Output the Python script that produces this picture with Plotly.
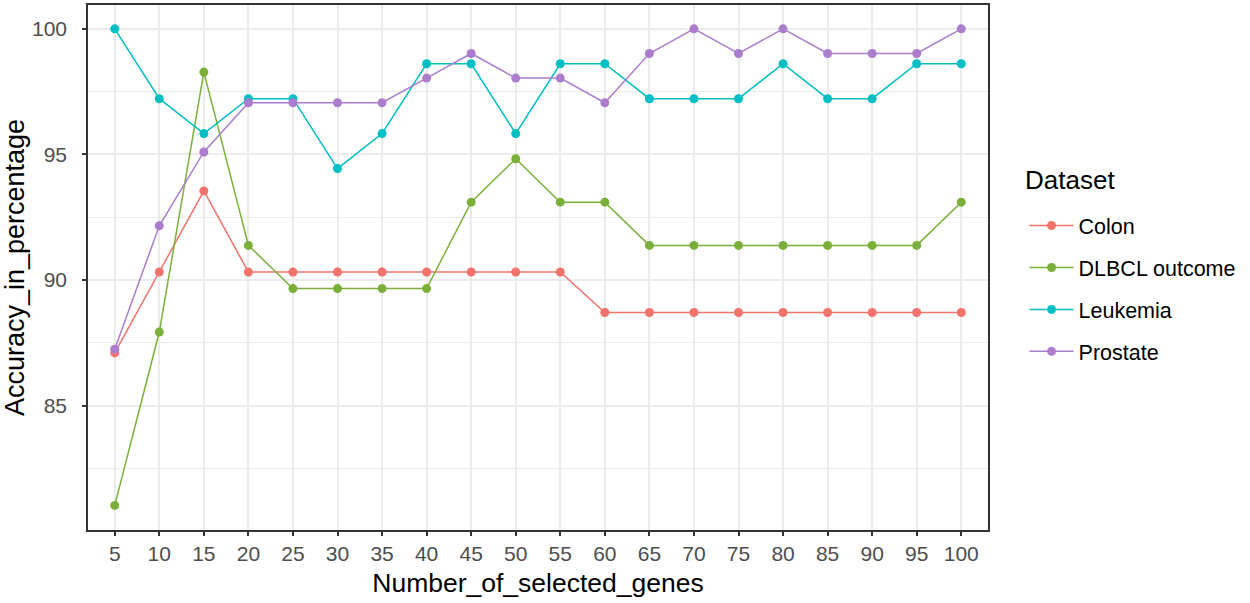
import plotly.graph_objects as go

genes = ["5", "10", "15", "20", "25", "30", "35", "40", "45", "50",
         "55", "60", "65", "70", "75", "80", "85", "90", "95", "100"]

colon = [87.10, 90.32, 93.55, 90.32, 90.32, 90.32, 90.32, 90.32, 90.32, 90.32,
         90.32, 88.71, 88.71, 88.71, 88.71, 88.71, 88.71, 88.71, 88.71, 88.71]
dlbcl = [81.03, 87.93, 98.28, 91.38, 89.66, 89.66, 89.66, 89.66, 93.10, 94.83,
         93.10, 93.10, 91.38, 91.38, 91.38, 91.38, 91.38, 91.38, 91.38, 93.10]
leukemia = [100.00, 97.22, 95.83, 97.22, 97.22, 94.44, 95.83, 98.61, 98.61, 95.83,
            98.61, 98.61, 97.22, 97.22, 97.22, 98.61, 97.22, 97.22, 98.61, 98.61]
prostate = [87.25, 92.16, 95.10, 97.06, 97.06, 97.06, 97.06, 98.04, 99.02, 98.04,
            98.04, 97.06, 99.02, 100.00, 99.02, 100.00, 99.02, 99.02, 99.02, 100.00]

series_names = ["Colon", "DLBCL outcome", "Leukemia", "Prostate"]
series_values = [colon, dlbcl, leukemia, prostate]
series_colors = ["#F2736B", "#7AB03A", "#00BFC4", "#AB7DCC"]
legend_title = "Dataset"

FONT = "Liberation Sans, Arial, sans-serif"

fig = go.Figure()
for name, vals, col in zip(series_names, series_values, series_colors):
    fig.add_trace(go.Scatter(
        x=genes, y=vals, name=name, mode="lines+markers",
        legendgroup=name,
        line=dict(color=col, width=1.5),
        marker=dict(color=col, size=9),
    ))

fig.update_layout(
    width=1250, height=603,
    margin=dict(l=88, r=262, t=5, b=73, autoexpand=False),
    paper_bgcolor="white", plot_bgcolor="white",
    font=dict(family=FONT, color="black"),
    legend=dict(
        font=dict(size=21.5, color="black"),
        x=1.0406, xanchor="left", y=0.619, yanchor="top",
        tracegroupgap=11, bgcolor="rgba(0,0,0,0)", itemwidth=44,
    ),
    annotations=[dict(
        text=legend_title, xref="paper", yref="paper",
        x=1.0385, y=0.634, xanchor="left", yanchor="bottom",
        showarrow=False, font=dict(size=26, color="black"),
    )],
)

fig.update_xaxes(
    type="category", categoryorder="array", categoryarray=genes,
    range=[-0.6, 19.6], automargin=False,
    showgrid=True, gridcolor="#EBEBEB", gridwidth=1.5,
    showline=True, mirror=True, linecolor="#333333", linewidth=1.5,
    ticks="outside", ticklen=4, tickcolor="#333333", tickwidth=1.5,
    tickfont=dict(size=21, color="#4D4D4D"),
    title=dict(text="Number_of_selected_genes", font=dict(size=26.5, color="black"), standoff=9),
    zeroline=False,
)
fig.update_yaxes(
    range=[80.05, 100.95], tick0=0, dtick=5, automargin=False,
    showgrid=True, gridcolor="#EBEBEB", gridwidth=1.5,
    minor=dict(dtick=2.5, tick0=0, showgrid=True, gridcolor="#EBEBEB", gridwidth=1),
    showline=True, mirror=True, linecolor="#333333", linewidth=1.5,
    ticks="outside", ticklen=4, tickcolor="#333333", tickwidth=1.5,
    tickfont=dict(size=21, color="#4D4D4D"), ticklabelstandoff=11,
    title=dict(text="Accuracy_in_percentage", font=dict(size=27, color="black"), standoff=0),
    zeroline=False,
)

fig.write_html("out.html", config={"displayModeBar": False},
               post_script="document.body.style.margin='0';")
